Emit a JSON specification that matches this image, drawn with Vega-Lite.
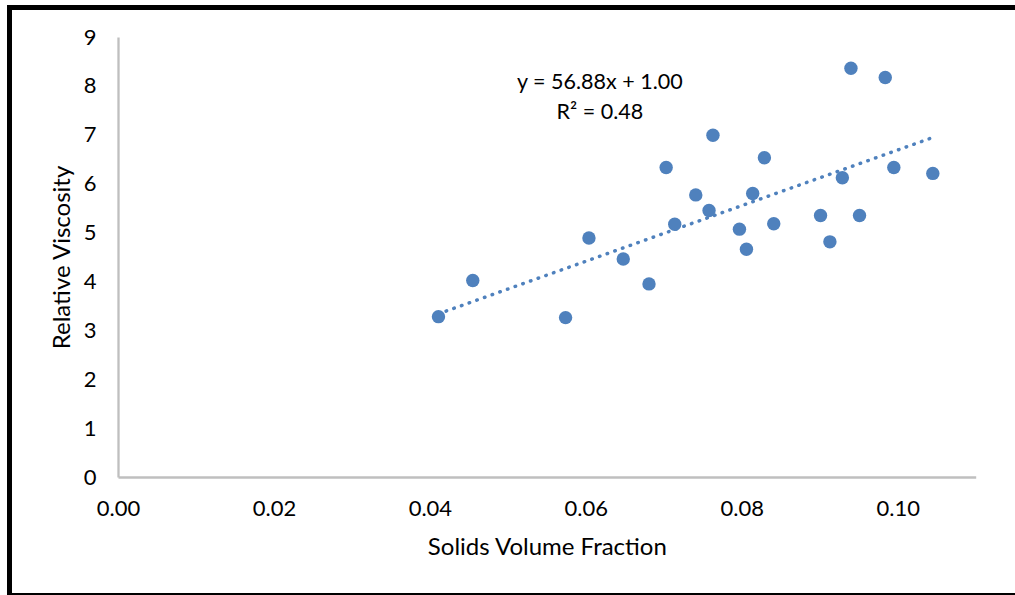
{
  "$schema": "https://vega.github.io/schema/vega-lite/v6.json",
  "autosize": {"type": "none"},
  "padding": {"left": 9.5, "top": 7.5, "right": -3, "bottom": 0},
  "width": 1008.5,
  "height": 588,
  "background": "white",
  "config": {
    "view": {"stroke": "black", "strokeWidth": 5},
    "font": "Lato",
    "axis": {
      "grid": false,
      "ticks": false,
      "domainColor": "#BFBFBF",
      "domainWidth": 2.3,
      "labelFont": "Lato",
      "labelFontSize": 22,
      "labelColor": "black",
      "labelFlush": false,
      "labelOverlap": false,
      "titleFont": "Lato",
      "titleFontSize": 24,
      "titleFontWeight": "normal",
      "titleColor": "black"
    }
  },
  "datasets": {
    "points": [
      {"fraction": 0.0411, "viscosity": 3.28},
      {"fraction": 0.0455, "viscosity": 4.02},
      {"fraction": 0.0574, "viscosity": 3.26},
      {"fraction": 0.0604, "viscosity": 4.89},
      {"fraction": 0.0648, "viscosity": 4.46},
      {"fraction": 0.0681, "viscosity": 3.95},
      {"fraction": 0.0703, "viscosity": 6.33},
      {"fraction": 0.0714, "viscosity": 5.17},
      {"fraction": 0.0741, "viscosity": 5.77},
      {"fraction": 0.0758, "viscosity": 5.45},
      {"fraction": 0.0763, "viscosity": 6.99},
      {"fraction": 0.0797, "viscosity": 5.07},
      {"fraction": 0.0806, "viscosity": 4.66},
      {"fraction": 0.0814, "viscosity": 5.80},
      {"fraction": 0.0829, "viscosity": 6.53},
      {"fraction": 0.0841, "viscosity": 5.18},
      {"fraction": 0.0901, "viscosity": 5.35},
      {"fraction": 0.0913, "viscosity": 4.81},
      {"fraction": 0.0929, "viscosity": 6.12},
      {"fraction": 0.0940, "viscosity": 8.36},
      {"fraction": 0.0951, "viscosity": 5.35},
      {"fraction": 0.0984, "viscosity": 8.17},
      {"fraction": 0.0995, "viscosity": 6.33},
      {"fraction": 0.1045, "viscosity": 6.21}
    ],
    "trend": [
      {"fraction": 0.0411, "viscosity": 3.338},
      {"fraction": 0.1045, "viscosity": 6.944}
    ],
    "labels": [
      {"fraction": 0.0618, "viscosity": 7.93, "text": "y = 56.88x + 1.00"},
      {"fraction": 0.0618, "viscosity": 7.32, "text": "R² = 0.48"}
    ]
  },
  "encoding": {
    "x": {
      "field": "fraction",
      "type": "quantitative",
      "scale": {"domain": [0, 0.11], "range": [108.5, 966.2], "nice": false, "zero": false},
      "axis": {
        "values": [0, 0.02, 0.04, 0.06, 0.08, 0.1],
        "format": ".2f",
        "title": "Solids Volume Fraction",
        "labelPadding": 21,
        "titlePadding": 16,
        "offset": -118.5
      }
    },
    "y": {
      "field": "viscosity",
      "type": "quantitative",
      "scale": {"domain": [0, 9], "range": [469.5, 29.5], "nice": false, "zero": false},
      "axis": {
        "values": [0, 1, 2, 3, 4, 5, 6, 7, 8, 9],
        "title": "Relative Viscosity",
        "labelPadding": 22,
        "titlePadding": 9,
        "offset": -108.5
      }
    }
  },
  "layer": [
    {
      "data": {"name": "trend"},
      "mark": {"type": "line", "color": "#4F81BD", "strokeWidth": 3.5, "strokeCap": "round", "strokeDash": [0.5, 7.64]}
    },
    {
      "data": {"name": "points"},
      "mark": {"type": "circle", "color": "#4F81BD", "opacity": 1, "size": 180}
    },
    {
      "data": {"name": "labels"},
      "mark": {"type": "text", "font": "Lato", "fontSize": 21.5, "color": "black", "align": "center", "baseline": "alphabetic"},
      "encoding": {"text": {"field": "text"}}
    }
  ]
}
